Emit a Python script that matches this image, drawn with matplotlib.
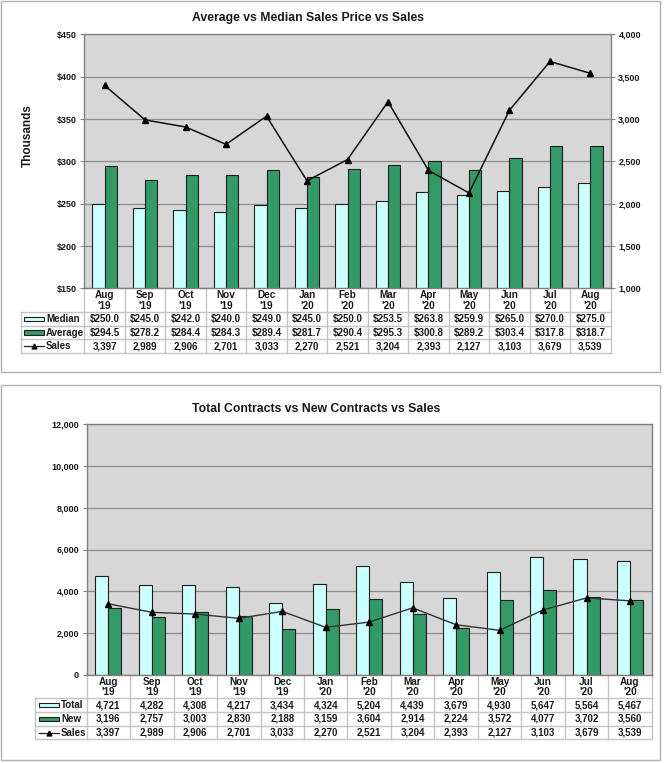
import numpy as np
import matplotlib
matplotlib.use("Agg")
import matplotlib.pyplot as plt
from matplotlib.patches import Rectangle
from matplotlib.lines import Line2D
from matplotlib.ticker import FuncFormatter, MultipleLocator

plt.rcParams['font.family'] = ['Liberation Sans', 'DejaVu Sans']

# ---- data ----
months = ["Aug\n'19", "Sep\n'19", "Oct\n'19", "Nov\n'19", "Dec\n'19", "Jan\n'20", "Feb\n'20",
          "Mar\n'20", "Apr\n'20", "May\n'20", "Jun\n'20", "Jul\n'20", "Aug\n'20"]
median_price = [250.0, 245.0, 242.0, 240.0, 249.0, 245.0, 250.0, 253.5, 263.8, 259.9, 265.0, 270.0, 275.0]
average_price = [294.5, 278.2, 284.4, 284.3, 289.4, 281.7, 290.4, 295.3, 300.8, 289.2, 303.4, 317.8, 318.7]
sales = [3397, 2989, 2906, 2701, 3033, 2270, 2521, 3204, 2393, 2127, 3103, 3679, 3539]
total_contracts = [4721, 4282, 4308, 4217, 3434, 4324, 5204, 4439, 3679, 4930, 5647, 5564, 5467]
new_contracts = [3196, 2757, 3003, 2830, 2188, 3159, 3604, 2914, 2224, 3572, 4077, 3702, 3560]

W, H = 665, 763
LIGHT = '#ccffff'
GREEN = '#339966'
BG = '#d7d7d7'
GRID = '#8c8c8c'
TBL = '#c4c4c4'
INK = '#1a1a1a'

fig = plt.figure(figsize=(W / 100, H / 100), dpi=100)


def px_axes(l, t, r, b):
    return fig.add_axes([l / W, 1 - b / H, (r - l) / W, (b - t) / H])


ov = fig.add_axes([0, 0, 1, 1], zorder=0)
ov.set_xlim(0, W)
ov.set_ylim(H, 0)
ov.axis('off')

# outer chart frames
ov.add_patch(Rectangle((1, 0.5), 659, 371, fill=False, ec='#b0b0b0', lw=1))
ov.add_patch(Rectangle((1, 385), 659, 375, fill=False, ec='#b0b0b0', lw=1))


def style_plot(ax):
    ax.set_facecolor(BG)
    for s in ax.spines.values():
        s.set_color('#808080')
        s.set_linewidth(1)
    ax.set_xticks([])
    ax.grid(axis='y', color=GRID, lw=0.9)
    ax.set_axisbelow(True)
    ax.tick_params(axis='y', length=3, width=0.8, color='#808080', labelsize=6.5, pad=2.5, labelcolor=INK)
    for lab in ax.get_yticklabels():
        lab.set_fontweight('bold')


def bars(ax, a, b):
    x = np.arange(len(a))
    ax.bar(x - 0.15, a, 0.3, color=LIGHT, edgecolor='#1e1e1e', lw=0.8, zorder=2)
    ax.bar(x + 0.15, b, 0.3, color=GREEN, edgecolor='#1e1e1e', lw=0.8, zorder=2)
    ax.set_xlim(-0.5, len(a) - 0.5)


def draw_table(left, right, top, head_bot, row_bots, leg_left, sym_l, sym_r, rows):
    n = len(months)
    cw = (right - left) / n
    bottom = row_bots[-1]
    # vertical separators
    for i in range(n + 1):
        ov.plot([left + i * cw] * 2, [top, bottom], color=TBL, lw=1)
    ov.plot([leg_left] * 2, [head_bot, bottom], color=TBL, lw=1)
    for yb in [head_bot] + row_bots:
        ov.plot([leg_left, right], [yb, yb], color=TBL, lw=1)
    for i, m in enumerate(months):
        cx = left + (i + 0.5) * cw
        ov.text(cx, (top + head_bot) / 2 + 0.5, m, ha='center', va='center', fontsize=7.2,
                fontweight='bold', color=INK, linespacing=1.1)
    prev = head_bot
    for (label, kind, col, vals), yb in zip(rows, row_bots):
        yc = (prev + yb) / 2
        if kind == 'bar':
            ov.add_patch(Rectangle((sym_l, yc - 2.2), sym_r - sym_l, 4.4, fc=col, ec='#1e1e1e', lw=0.8))
        else:
            ov.add_line(Line2D([sym_l, sym_r], [yc, yc], color='#222222', lw=0.9))
            ov.plot([(sym_l + sym_r) / 2], [yc], marker='^', ms=3.5, color='black')
        ov.text(sym_r + 2, yc, label, ha='left', va='center', fontsize=7, fontweight='bold', color=INK)
        for i, v in enumerate(vals):
            ov.text(left + (i + 0.5) * cw, yc, v, ha='center', va='center', fontsize=7,
                    fontweight='bold', color=INK)
        prev = yb


# ---- top chart ----
ax1 = px_axes(84.3, 34.3, 610.7, 288.4)
bars(ax1, median_price, average_price)
ax1.set_ylim(150, 450)
ax1.yaxis.set_major_locator(MultipleLocator(50))
ax1.yaxis.set_major_formatter(FuncFormatter(lambda v, p: f'${v:.0f}'))
style_plot(ax1)
ax1.set_ylabel('Thousands', fontsize=8.5, fontweight='bold', color=INK)
ax1.yaxis.set_label_coords(-0.095, 0.6)

ax1r = ax1.twinx()
ax1r.set_ylim(1000, 4000)
ax1r.yaxis.set_major_locator(MultipleLocator(500))
ax1r.yaxis.set_major_formatter(FuncFormatter(lambda v, p: f'{v:,.0f}'))
ax1r.plot(np.arange(len(sales)), sales, color='#111111', lw=1.1, marker='^', ms=4.5,
          markerfacecolor='black', markeredgecolor='black', zorder=3)
for s in ax1r.spines.values():
    s.set_visible(False)
ax1r.tick_params(axis='y', length=3, width=0.8, color='#808080', labelsize=6.5, pad=2.5, labelcolor=INK)
for lab in ax1r.get_yticklabels():
    lab.set_fontweight('bold')
for lab in ax1.get_yticklabels():
    lab.set_fontweight('bold')

fig.text(308 / W, 1 - 18 / H, 'Average vs Median Sales Price vs Sales', ha='center', va='center',
         fontsize=8.8, fontweight='bold', color=INK)

draw_table(84.3, 610.7, 288.4, 311.7, [326.0, 339.3, 353.3], 21, 24, 44,
           [('Median', 'bar', LIGHT, [f'${v:.1f}' for v in median_price]),
            ('Average', 'bar', GREEN, [f'${v:.1f}' for v in average_price]),
            ('Sales', 'line', None, [f'{v:,}' for v in sales])])

# ---- bottom chart ----
ax2 = px_axes(86.7, 424.3, 651.7, 674.7)
bars(ax2, total_contracts, new_contracts)
ax2.plot(np.arange(len(sales)), sales, color='#333333', lw=1.0, marker='^', ms=4.5,
         markerfacecolor='black', markeredgecolor='black', zorder=3)
ax2.set_ylim(0, 12000)
ax2.yaxis.set_major_locator(MultipleLocator(2000))
ax2.yaxis.set_major_formatter(FuncFormatter(lambda v, p: f'{v:,.0f}'))
style_plot(ax2)
for lab in ax2.get_yticklabels():
    lab.set_fontweight('bold')

fig.text(316 / W, 1 - 409 / H, 'Total Contracts vs New Contracts vs Sales', ha='center', va='center',
         fontsize=8.8, fontweight='bold', color=INK)

draw_table(86.7, 651.7, 674.7, 698.3, [711.7, 725.7, 739.3], 35, 38.5, 59,
           [('Total', 'bar', LIGHT, [f'{v:,}' for v in total_contracts]),
            ('New', 'bar', GREEN, [f'{v:,}' for v in new_contracts]),
            ('Sales', 'line', None, [f'{v:,}' for v in sales])])

fig.savefig('out.png', dpi=100)
